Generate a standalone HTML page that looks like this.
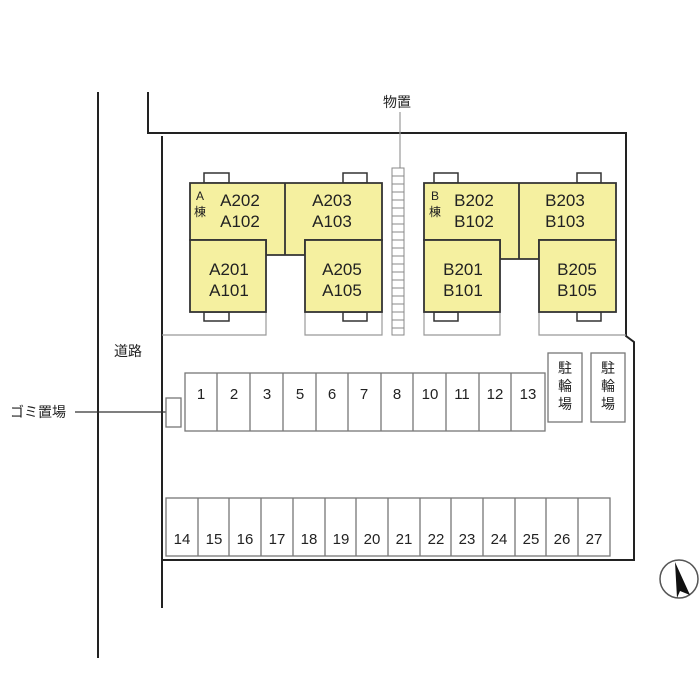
<!DOCTYPE html>
<html><head><meta charset="utf-8"><style>
html,body{margin:0;padding:0;background:#fff;width:700px;height:700px;overflow:hidden}
text{font-family:"Liberation Sans","Noto Sans CJK JP",sans-serif;fill:#222}
</style></head><body>
<svg width="700" height="700" viewBox="0 0 700 700" xmlns="http://www.w3.org/2000/svg">
<g fill="none" stroke="#222" stroke-width="2">
<line x1="98" y1="92" x2="98" y2="658"/>
<polyline points="148,92 148,133 626,133 626,336 634,342 634,560 162,560"/>
<line x1="162" y1="136" x2="162" y2="608"/>
</g>
<g fill="none" stroke="#999" stroke-width="1.2">
<polyline points="162,335 266,335 266,312"/>
<polyline points="305,312 305,335 382,335 382,312"/>
<polyline points="424,312 424,335 500,335 500,312"/>
<polyline points="539,312 539,335 626,335"/>
<line x1="400" y1="112" x2="400" y2="168"/>
<line x1="75" y1="412" x2="175" y2="412" stroke="#333"/>
</g>
<g stroke="#888" stroke-width="1" fill="#fff">
<rect x="392" y="168" width="12" height="167"/>
<path d="M392 176H404M392 184H404M392 192H404M392 200H404M392 208H404M392 216H404M392 224H404M392 232H404M392 240H404M392 248H404M392 256H404M392 264H404M392 272H404M392 280H404M392 288H404M392 296H404M392 304H404M392 312H404M392 320H404M392 328H404"/>
</g>
<g fill="#fff" stroke="#333" stroke-width="1.5">
<rect x="204" y="173" width="25" height="10"/><rect x="343" y="173" width="24" height="10"/>
<rect x="204" y="312" width="25" height="9"/><rect x="343" y="312" width="24" height="9"/>
<rect x="434" y="173" width="24" height="10"/><rect x="577" y="173" width="24" height="10"/>
<rect x="434" y="312" width="24" height="9"/><rect x="577" y="312" width="24" height="9"/>
</g>
<g fill="#f5f0a0" stroke="#333" stroke-width="1.8">
<path d="M190 183H382V240H305V255H266V240H190Z"/>
<line x1="285" y1="183" x2="285" y2="255"/>
<rect x="190" y="240" width="76" height="72"/>
<rect x="305" y="240" width="77" height="72"/>
<path d="M424 183H616V240H539V259H500V240H424Z"/>
<line x1="519" y1="183" x2="519" y2="259"/>
<rect x="424" y="240" width="76" height="72"/>
<rect x="539" y="240" width="77" height="72"/>
</g>
<g font-size="17" text-anchor="middle">
<text x="240" y="206">A202</text><text x="240" y="227">A102</text>
<text x="332" y="206">A203</text><text x="332" y="227">A103</text>
<text x="229" y="275">A201</text><text x="229" y="296">A101</text>
<text x="342" y="275">A205</text><text x="342" y="296">A105</text>
<text x="474" y="206">B202</text><text x="474" y="227">B102</text>
<text x="565" y="206">B203</text><text x="565" y="227">B103</text>
<text x="463" y="275">B201</text><text x="463" y="296">B101</text>
<text x="577" y="275">B205</text><text x="577" y="296">B105</text>
</g>
<g font-size="12" text-anchor="middle">
<text x="200" y="200">A</text><text x="200" y="216">棟</text>
<text x="435" y="200">B</text><text x="435" y="216">棟</text>
</g>
<g fill="#fff" stroke="#777" stroke-width="1.3">
<rect x="548" y="353" width="34" height="69"/>
<rect x="591" y="353" width="34" height="69"/>
<rect x="166" y="398" width="15" height="29"/>
<rect x="185" y="373" width="360" height="58"/>
<path d="M217 373V431M250 373V431M283 373V431M316 373V431M348 373V431M381 373V431M413 373V431M446 373V431M479 373V431M511 373V431"/>
<rect x="166" y="498" width="444" height="58"/>
<path d="M198 498V556M229 498V556M261 498V556M293 498V556M325 498V556M356 498V556M388 498V556M420 498V556M451 498V556M483 498V556M515 498V556M546 498V556M578 498V556"/>
</g>
<g font-size="14" text-anchor="middle">
<text x="397" y="107">物置</text>
<text x="128" y="356">道路</text>
<text x="38" y="417">ゴミ置場</text>
<text x="565" y="373">駐</text><text x="565" y="391">輪</text><text x="565" y="409">場</text>
<text x="608" y="373">駐</text><text x="608" y="391">輪</text><text x="608" y="409">場</text>
</g>
<g font-size="15" text-anchor="middle">
<text x="201" y="399">1</text><text x="234" y="399">2</text><text x="267" y="399">3</text><text x="300" y="399">5</text><text x="332" y="399">6</text><text x="364" y="399">7</text><text x="397" y="399">8</text><text x="430" y="399">10</text><text x="462" y="399">11</text><text x="495" y="399">12</text><text x="528" y="399">13</text>
<text x="182" y="544">14</text><text x="214" y="544">15</text><text x="245" y="544">16</text><text x="277" y="544">17</text><text x="309" y="544">18</text><text x="341" y="544">19</text><text x="372" y="544">20</text><text x="404" y="544">21</text><text x="436" y="544">22</text><text x="467" y="544">23</text><text x="499" y="544">24</text><text x="531" y="544">25</text><text x="562" y="544">26</text><text x="594" y="544">27</text>
</g>
<circle cx="679" cy="579" r="19" fill="#fff" stroke="#555" stroke-width="1.5"/>
<path d="M675 562L690 595L680 591L677 598Z" fill="#111"/>
</svg>
</body></html>
